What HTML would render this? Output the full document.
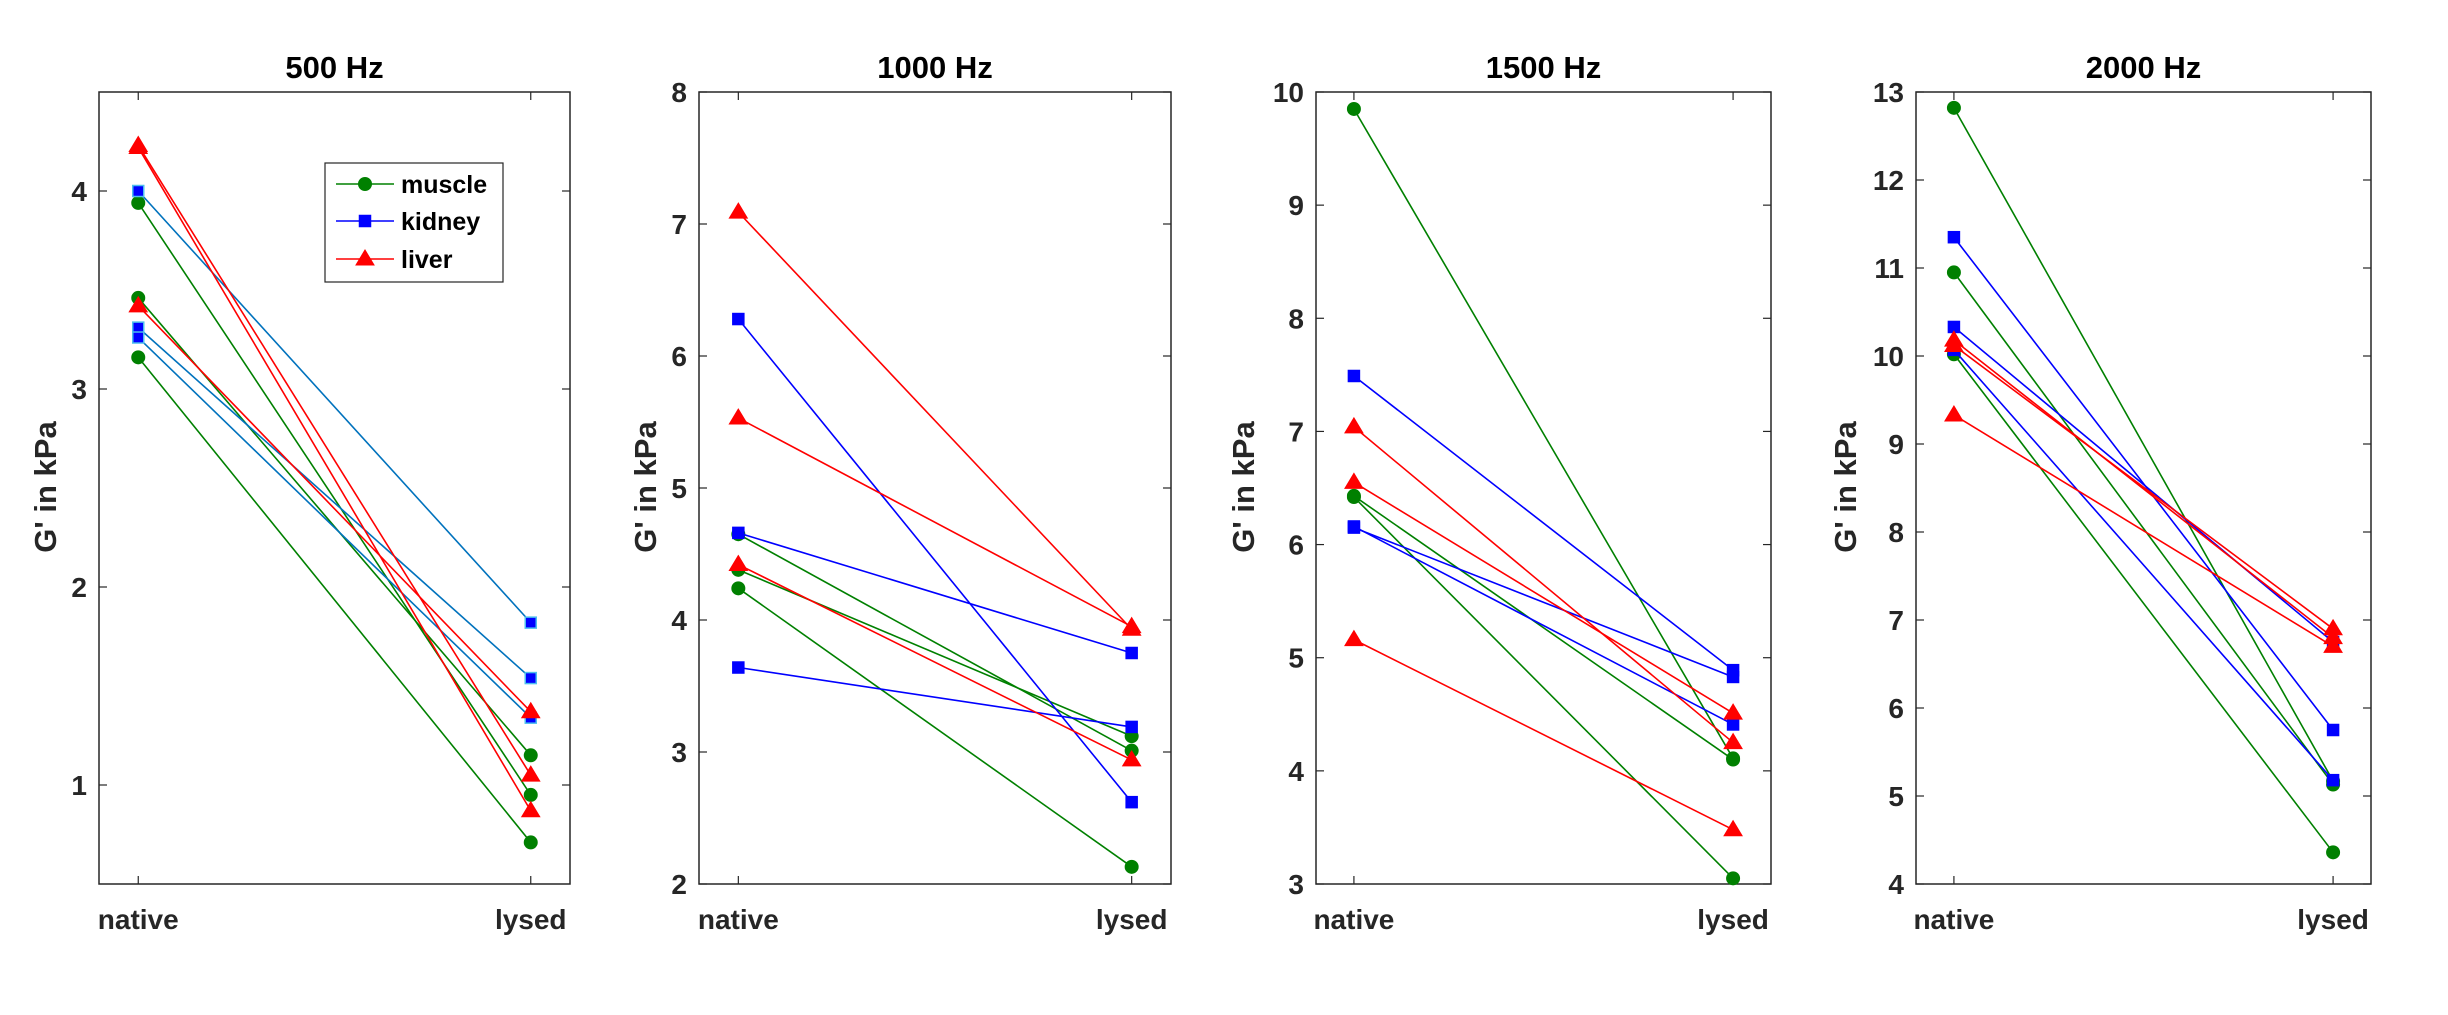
<!DOCTYPE html>
<html><head><meta charset="utf-8"><style>
html,body{margin:0;padding:0;background:#fff;}
svg text{font-family:"Liberation Sans",Arial,sans-serif;font-weight:bold;fill:#262626;}
</style></head><body>
<svg id="chart" width="2448" height="1010" viewBox="0 0 2448 1010" xmlns="http://www.w3.org/2000/svg"></svg>
<script>
// ----- data -----
const titles = ["500 Hz","1000 Hz","1500 Hz","2000 Hz"];
const categories = ["native","lysed"];
const yMins = [0.5, 2, 3, 4];
const yMaxs = [4.5, 8, 10, 13];
const yTicks0 = [1,2,3,4];
const yTicks1 = [2,3,4,5,6,7,8];
const yTicks2 = [3,4,5,6,7,8,9,10];
const yTicks3 = [4,5,6,7,8,9,10,11,12,13];
// muscle: [native, lysed] per sample
const muscle0 = [[3.94,0.95],[3.46,1.15],[3.16,0.71]];
const kidney0 = [[4.00,1.82],[3.31,1.54],[3.26,1.34]];
const liver0  = [[4.23,1.05],[4.22,0.87],[3.42,1.37]];
const muscle1 = [[4.65,3.01],[4.38,3.12],[4.24,2.13]];
const kidney1 = [[6.28,2.62],[4.66,3.75],[3.64,3.19]];
const liver1  = [[7.09,3.93],[5.53,3.95],[4.42,2.94]];
const muscle2 = [[9.85,4.11],[6.43,4.10],[6.42,3.05]];
const kidney2 = [[7.49,4.89],[6.15,4.83],[6.16,4.41]];
const liver2  = [[7.04,4.25],[6.55,4.51],[5.16,3.48]];
const muscle3 = [[12.82,5.17],[10.95,5.13],[10.02,4.36]];
const kidney3 = [[11.35,5.75],[10.33,6.75],[10.07,5.18]];
const liver3  = [[10.18,6.80],[10.12,6.90],[9.33,6.70]];

const panels = [
  {L:99,R:570,ticks:yTicks0,m:muscle0,k:kidney0,l:liver0,kLine:"#0072BD",kEdge:"#4DBEEE",ylx:45},
  {L:699,R:1171,ticks:yTicks1,m:muscle1,k:kidney1,l:liver1,kLine:"#0000FF",kEdge:"#0000FF",ylx:645},
  {L:1316,R:1771,ticks:yTicks2,m:muscle2,k:kidney2,l:liver2,kLine:"#0000FF",kEdge:"#0000FF",ylx:1243},
  {L:1916,R:2371,ticks:yTicks3,m:muscle3,k:kidney3,l:liver3,kLine:"#0000FF",kEdge:"#0000FF",ylx:1845}
];
const TOP=92, BOT=884;
const svg=document.getElementById('chart');
const NS="http://www.w3.org/2000/svg";
function mk(tag,attrs,parent){const e=document.createElementNS(NS,tag);for(const k in attrs)e.setAttribute(k,attrs[k]);(parent||svg).appendChild(e);return e;}

function marker(g,type,x,y,fill,edge){
  let e;
  if(type==='circle'){e=mk('circle',{cx:x,cy:y,r:6.5,fill:fill,stroke:fill,'stroke-width':1},g);}
  else if(type==='square'){e=mk('rect',{x:x-5.5,y:y-5.5,width:11,height:11,fill:fill,stroke:edge,'stroke-width':1.5},g);}
  else {e=mk('polygon',{points:(x)+','+(y-9)+' '+(x-9)+','+(y+6)+' '+(x+9)+','+(y+6),fill:fill,stroke:fill,'stroke-width':1},g);}
  return e;
}

panels.forEach((p,i)=>{
  const g=mk('g',{});
  
  
  const xs=c=>p.L+(c+1-0.9)/1.2*(p.R-p.L);
  const ys=v=>BOT-(v-yMins[i])/(yMaxs[i]-yMins[i])*(BOT-TOP);
  // axes box
  const box=mk('rect',{x:p.L,y:TOP,width:p.R-p.L,height:BOT-TOP,fill:'none',stroke:'#262626','stroke-width':1.5},g);
  
  
  // y ticks
  p.ticks.forEach(t=>{
    const y=ys(t);
    mk('line',{x1:p.L,x2:p.L+8,y1:y,y2:y,stroke:'#262626','stroke-width':1.2},g);
    mk('line',{x1:p.R,x2:p.R-8,y1:y,y2:y,stroke:'#262626','stroke-width':1.2},g);
    const tx=mk('text',{x:p.L-12,y:y+10,'text-anchor':'end','font-size':28},g);
    tx.textContent=t;
    
    
  });
  // x ticks
  categories.forEach((c,ci)=>{
    const x=xs(ci);
    mk('line',{x1:x,x2:x,y1:BOT,y2:BOT-8,stroke:'#262626','stroke-width':1.2},g);
    mk('line',{x1:x,x2:x,y1:TOP,y2:TOP+8,stroke:'#262626','stroke-width':1.2},g);
    const tx=mk('text',{x:x,y:929,'text-anchor':'middle','font-size':28},g);
    tx.textContent=c;
    
    
  });
  // title
  const tt=mk('text',{x:(p.L+p.R)/2,y:78,'text-anchor':'middle','font-size':31,style:'fill:#000'},g);
  tt.textContent=titles[i];
  
  
  // y label
  const yl=mk('text',{x:0,y:0,'text-anchor':'middle','font-size':31,transform:'translate('+(p.ylx+11)+',487) rotate(-90)'},g);
  yl.textContent="G' in kPa";
  
  
  // series
  const series=[
    {d:p.m,col:'#008000',edge:'#008000',fill:'#008000',type:'circle',name:'muscle'},
    {d:p.k,col:p.kLine,edge:p.kEdge,fill:'#0000FF',type:'square',name:'kidney'},
    {d:p.l,col:'#FF0000',edge:'#FF0000',fill:'#FF0000',type:'triangle',name:'liver'}
  ];
  series.forEach(s=>{
    s.d.forEach((pair,j)=>{
      const ln=mk('line',{x1:xs(0),y1:ys(pair[0]),x2:xs(1),y2:ys(pair[1]),stroke:s.col,'stroke-width':1.6},g);
      
      
      pair.forEach((v,ci)=>{
        const mkEl=marker(g,s.type,xs(ci),ys(v),s.fill,s.edge);
        
        
      });
    });
  });
});

// legend
const lg=mk('g',{});


mk('rect',{x:325,y:163,width:178,height:119,fill:'#fff',stroke:'#262626','stroke-width':1.2},lg);
const legItems=[['muscle','#008000','circle',184],['kidney','#0000FF','square',221],['liver','#FF0000','triangle',259]];
legItems.forEach(it=>{
  const e=mk('g',{},lg);
  
  
  mk('line',{x1:336,x2:394,y1:it[3],y2:it[3],stroke:it[1],'stroke-width':1.6},e);
  marker(e,it[2],365,it[3],it[1],it[1]);
  const t=mk('text',{x:401,y:it[3]+9,'font-size':25,style:'fill:#000'},e);
  t.textContent=it[0];
});
</script>
</body></html>
